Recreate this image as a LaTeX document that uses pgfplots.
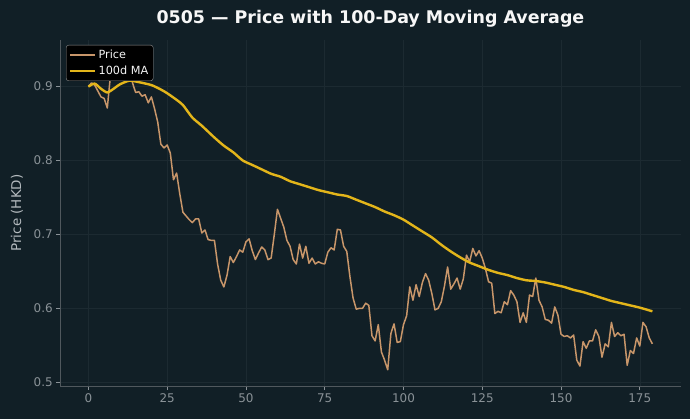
\documentclass[border=0pt]{standalone}
\usepackage{fontspec}
\setmainfont{DejaVu Sans}
\usepackage{pgfplots}
\usepackage{pgfplotstable}
\pgfplotsset{compat=1.18}

\definecolor{bgc}{HTML}{111F26}
\definecolor{gridc}{HTML}{1C2A31}
\definecolor{spinec}{HTML}{50585D}
\definecolor{tickc}{HTML}{8A9297}
\definecolor{labelc}{HTML}{B4BABE}
\definecolor{pricec}{HTML}{C8966A}
\definecolor{mac}{HTML}{E3B51A}

% Daily closing price (HKD)
\pgfplotstableread{
d p
0 0.900
1 0.905
2 0.902
3 0.894
4 0.886
5 0.884
6 0.871
7 0.915
8 0.930
9 0.943
10 0.932
11 0.934
12 0.936
13 0.925
14 0.905
15 0.892
16 0.893
17 0.887
18 0.889
19 0.878
20 0.886
21 0.870
22 0.852
23 0.822
24 0.817
25 0.821
26 0.810
27 0.774
28 0.783
29 0.755
30 0.730
31 0.725
32 0.720
33 0.716
34 0.721
35 0.721
36 0.702
37 0.706
38 0.693
39 0.692
40 0.692
41 0.660
42 0.638
43 0.629
44 0.645
45 0.670
46 0.662
47 0.670
48 0.679
49 0.676
50 0.690
51 0.694
52 0.678
53 0.666
54 0.675
55 0.683
56 0.679
57 0.666
58 0.668
59 0.700
60 0.734
61 0.722
62 0.710
63 0.692
64 0.684
65 0.666
66 0.660
67 0.687
68 0.668
69 0.684
70 0.661
71 0.668
72 0.660
73 0.663
74 0.661
75 0.660
76 0.676
77 0.682
78 0.679
79 0.707
80 0.706
81 0.684
82 0.677
83 0.643
84 0.614
85 0.599
86 0.600
87 0.600
88 0.607
89 0.604
90 0.563
91 0.556
92 0.578
93 0.541
94 0.530
95 0.517
96 0.566
97 0.579
98 0.554
99 0.555
100 0.578
101 0.590
102 0.629
103 0.611
104 0.632
105 0.616
106 0.635
107 0.647
108 0.638
109 0.620
110 0.598
111 0.600
112 0.609
113 0.630
114 0.656
115 0.626
116 0.633
117 0.641
118 0.626
119 0.640
120 0.672
121 0.663
122 0.681
123 0.671
124 0.678
125 0.668
126 0.654
127 0.636
128 0.634
129 0.593
130 0.596
131 0.594
132 0.609
133 0.605
134 0.624
135 0.618
136 0.609
137 0.581
138 0.594
139 0.581
140 0.618
141 0.616
142 0.641
143 0.611
144 0.602
145 0.585
146 0.584
147 0.580
148 0.602
149 0.591
150 0.565
151 0.562
152 0.563
153 0.560
154 0.564
155 0.530
156 0.522
157 0.555
158 0.546
159 0.556
160 0.556
161 0.571
162 0.562
163 0.534
164 0.552
165 0.548
166 0.581
167 0.562
168 0.567
169 0.563
170 0.565
171 0.523
172 0.543
173 0.539
174 0.560
175 0.549
176 0.581
177 0.575
178 0.560
179 0.552
}\pricetable

% 100-day moving average
\pgfplotstableread{
d m
0 0.900
2 0.904
4 0.897
6 0.892
8 0.897
10 0.903
13 0.908
16 0.906
20 0.902
23 0.896
25 0.891
28 0.882
30 0.875
33 0.858
36 0.847
40 0.831
43 0.820
46 0.811
49 0.800
52 0.794
55 0.788
58 0.782
61 0.778
64 0.772
67 0.768
70 0.764
73 0.760
76 0.757
79 0.754
82 0.752
85 0.747
88 0.742
91 0.737
94 0.731
97 0.726
100 0.720
103 0.712
106 0.704
109 0.696
112 0.686
115 0.677
118 0.669
121 0.662
124 0.657
127 0.652
130 0.648
133 0.645
136 0.641
139 0.638
142 0.637
145 0.635
148 0.632
151 0.629
154 0.625
157 0.622
160 0.618
163 0.614
166 0.610
169 0.607
172 0.604
175 0.601
179 0.596
}\matable

\begin{document}
\begin{tikzpicture}
\path[fill=bgc, use as bounding box] (-60.2bp,-33bp) rectangle (629.8bp,386bp);
\begin{axis}[
  scale only axis, width=620.4bp, height=346bp,
  xmin=-8.95, xmax=187.95, ymin=0.495, ymax=0.963,
  axis x line*=bottom, axis y line*=left,
  axis line style={spinec, line width=0.8bp, -},
  xtick={0,25,50,75,100,125,150,175},
  ytick={0.5,0.6,0.7,0.8,0.9},
  yticklabels={0.5,0.6,0.7,0.8,0.9},
  tick align=outside, major tick length=4bp,
  tick style={tickc, line width=0.8bp},
  grid=major, grid style={gridc, line width=0.6bp},
  /pgf/number format/assume math mode=true,
  ticklabel style={font=\fontsize{12}{14}\selectfont, text=tickc},
  legend cell align=left,
  legend image code/.code={\draw[#1] (0bp,0bp) -- (25bp,0bp);},
  legend style={at={(0,1)}, anchor=north west, xshift=5.8bp, yshift=-5bp,
    fill=black, draw=gray!85,
    rounded corners=2.5bp, text=white!92!gray,
    font=\fontsize{11.3}{13}\selectfont, inner xsep=3bp, inner ysep=3bp,
    row sep=1.5bp},
]
\addlegendimage{draw=pricec, line width=1.6bp}
\addlegendentry{Price}
\addlegendimage{draw=mac, line width=2.4bp}
\addlegendentry{100d MA}
\addplot[pricec, line width=1.5bp, line join=round, forget plot] table[x=d, y=p] {\pricetable};
\addplot[mac, line width=2.4bp, line join=round, smooth, tension=0.4, forget plot] table[x=d, y=m] {\matable};
\end{axis}
\node[anchor=base, font=\bfseries\fontsize{17.5}{20}\selectfont, text=white!94!gray]
  at (310.2bp,362bp) {0505 — Price with 100-Day Moving Average};
\node[rotate=90, font=\fontsize{13.5}{15}\selectfont, text=labelc]
  at (-43.2bp,173bp) {Price (HKD)};
\end{tikzpicture}
\end{document}
